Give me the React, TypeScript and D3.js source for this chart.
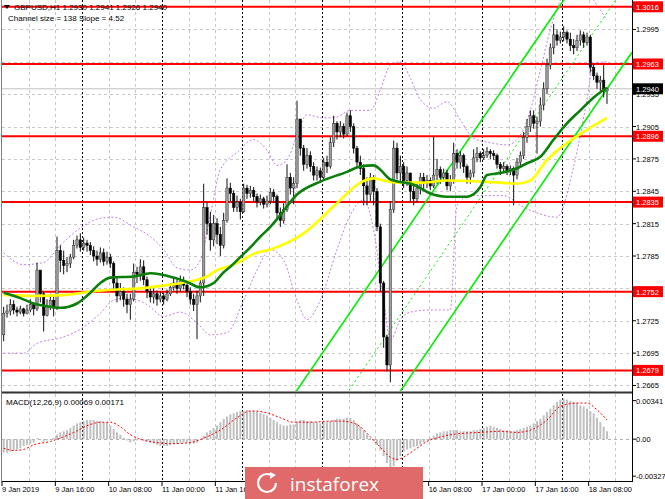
import React from "react";
import * as d3 from "d3";

const W = 665;
const H = 499;

// GBPUSD H1, bar 0 = 9 Jan 2019 00:00. Each row: high, low, close (open = previous close)
const firstOpen = 1.2712;
const candles: number[][] = [
  // 9 Jan
  [1.2738, 1.2706, 1.2732], [1.2740, 1.2728, 1.2734], [1.2745, 1.2730, 1.2740], [1.2744, 1.2731, 1.2735],
  [1.2738, 1.2729, 1.2733], [1.2739, 1.2731, 1.2736], [1.2737, 1.2729, 1.2732], [1.2740, 1.2731, 1.2735],
  [1.2745, 1.2733, 1.2740], [1.2742, 1.2730, 1.2736], [1.2779, 1.2734, 1.2772], [1.2768, 1.2742, 1.2750],
  [1.2752, 1.2715, 1.2730], [1.2745, 1.2729, 1.2738], [1.2750, 1.2735, 1.2744], [1.2748, 1.2729, 1.2737],
  [1.2803, 1.2735, 1.2790], [1.2795, 1.2770, 1.2781], [1.2790, 1.2768, 1.2776], [1.2784, 1.2770, 1.2778],
  [1.2787, 1.2774, 1.2784], [1.2800, 1.2782, 1.2795], [1.2804, 1.2792, 1.2800], [1.2806, 1.2789, 1.2793],
  // 10 Jan
  [1.2802, 1.2790, 1.2797], [1.2800, 1.2789, 1.2795], [1.2798, 1.2786, 1.2790], [1.2794, 1.2780, 1.2785],
  [1.2790, 1.2776, 1.2782], [1.2793, 1.2779, 1.2788], [1.2792, 1.2776, 1.2780], [1.2789, 1.2777, 1.2784],
  [1.2787, 1.2774, 1.2778], [1.2780, 1.2754, 1.2760], [1.2765, 1.2742, 1.2748], [1.2760, 1.2744, 1.2752],
  [1.2756, 1.2738, 1.2745], [1.2750, 1.2732, 1.2740], [1.2750, 1.2726, 1.2745], [1.2778, 1.2743, 1.2770],
  [1.2775, 1.2760, 1.2768], [1.2782, 1.2762, 1.2775], [1.2781, 1.2758, 1.2763], [1.2766, 1.2746, 1.2752],
  [1.2756, 1.2742, 1.2747], [1.2755, 1.2741, 1.2750], [1.2753, 1.2739, 1.2745], [1.2752, 1.2742, 1.2748],
  // 11 Jan
  [1.2751, 1.2740, 1.2745], [1.2754, 1.2743, 1.2750], [1.2760, 1.2748, 1.2756], [1.2765, 1.2753, 1.2760],
  [1.2764, 1.2750, 1.2755], [1.2767, 1.2752, 1.2762], [1.2766, 1.2754, 1.2758], [1.2761, 1.2747, 1.2752],
  [1.2756, 1.2740, 1.2745], [1.2750, 1.2734, 1.2740], [1.2753, 1.2708, 1.2748], [1.2765, 1.2742, 1.2760],
  [1.2852, 1.2748, 1.2830], [1.2835, 1.2805, 1.2815], [1.2826, 1.2790, 1.2800], [1.2823, 1.2794, 1.2815],
  [1.2820, 1.2796, 1.2805], [1.2812, 1.2785, 1.2795], [1.2825, 1.2792, 1.2818], [1.2857, 1.2816, 1.2848],
  [1.2853, 1.2836, 1.2843], [1.2846, 1.2826, 1.2830], [1.2841, 1.2826, 1.2835], [1.2838, 1.2819, 1.2826],
  // 14 Jan
  [1.2852, 1.2825, 1.2848], [1.2851, 1.2838, 1.2843], [1.2850, 1.2839, 1.2846], [1.2849, 1.2835, 1.2840],
  [1.2843, 1.2830, 1.2835], [1.2842, 1.2832, 1.2838], [1.2840, 1.2829, 1.2833], [1.2841, 1.2830, 1.2836],
  [1.2848, 1.2833, 1.2844], [1.2847, 1.2834, 1.2840], [1.2842, 1.2820, 1.2825], [1.2830, 1.2812, 1.2818],
  [1.2834, 1.2815, 1.2828], [1.2870, 1.2826, 1.2858], [1.2862, 1.2842, 1.2848], [1.2858, 1.2833, 1.2852],
  [1.2929, 1.2848, 1.2912], [1.2912, 1.2878, 1.2885], [1.2888, 1.2864, 1.2870], [1.2885, 1.2866, 1.2878],
  [1.2882, 1.2863, 1.2868], [1.2872, 1.2855, 1.2860], [1.2868, 1.2855, 1.2864], [1.2867, 1.2853, 1.2858],
  // 15 Jan
  [1.2876, 1.2855, 1.2872], [1.2878, 1.2862, 1.2868], [1.2895, 1.2866, 1.2890], [1.2915, 1.2886, 1.2908],
  [1.2910, 1.2893, 1.2900], [1.2910, 1.2895, 1.2905], [1.2908, 1.2894, 1.2898], [1.2918, 1.2896, 1.2915],
  [1.2920, 1.2900, 1.2905], [1.2908, 1.2880, 1.2885], [1.2887, 1.2866, 1.2872], [1.2878, 1.2860, 1.2866],
  [1.2870, 1.2832, 1.2850], [1.2858, 1.2832, 1.2842], [1.2862, 1.2836, 1.2858], [1.2860, 1.2832, 1.2845],
  [1.2848, 1.2808, 1.2812], [1.2815, 1.2752, 1.2760], [1.2762, 1.2700, 1.2710], [1.2712, 1.2678, 1.2684],
  [1.2836, 1.2668, 1.2828], [1.2892, 1.2825, 1.2885], [1.2890, 1.2856, 1.2862], [1.2878, 1.2852, 1.2868],
  // 16 Jan
  [1.2872, 1.2848, 1.2855], [1.2868, 1.2850, 1.2862], [1.2862, 1.2835, 1.2845], [1.2850, 1.2832, 1.2838],
  [1.2853, 1.2835, 1.2848], [1.2862, 1.2842, 1.2858], [1.2862, 1.2845, 1.2852], [1.2860, 1.2848, 1.2855],
  [1.2858, 1.2846, 1.2850], [1.2896, 1.2848, 1.2860], [1.2875, 1.2852, 1.2865], [1.2868, 1.2852, 1.2858],
  [1.2866, 1.2854, 1.2862], [1.2865, 1.2846, 1.2850], [1.2860, 1.2845, 1.2855], [1.2890, 1.2852, 1.2880],
  [1.2884, 1.2866, 1.2872], [1.2882, 1.2866, 1.2878], [1.2880, 1.2862, 1.2868], [1.2870, 1.2852, 1.2858],
  [1.2865, 1.2852, 1.2862], [1.2884, 1.2858, 1.2876], [1.2886, 1.2872, 1.2880], [1.2882, 1.2872, 1.2876],
  // 17 Jan
  [1.2884, 1.2874, 1.2878], [1.2886, 1.2876, 1.2882], [1.2884, 1.2875, 1.2880], [1.2883, 1.2874, 1.2878],
  [1.2880, 1.2866, 1.2870], [1.2872, 1.2860, 1.2866], [1.2872, 1.2862, 1.2868], [1.2870, 1.2860, 1.2864],
  [1.2869, 1.2860, 1.2866], [1.2868, 1.2832, 1.2860], [1.2876, 1.2856, 1.2872], [1.2882, 1.2868, 1.2878],
  [1.2900, 1.2875, 1.2895], [1.2912, 1.2890, 1.2905], [1.2920, 1.2900, 1.2915], [1.2920, 1.2903, 1.2908],
  [1.2914, 1.2880, 1.2910], [1.2932, 1.2905, 1.2925], [1.2946, 1.2920, 1.2940], [1.2968, 1.2935, 1.2962],
  [1.2982, 1.2958, 1.2978], [1.3000, 1.2972, 1.2990], [1.2995, 1.2980, 1.2985], [1.2993, 1.2982, 1.2988],
  // 18 Jan
  [1.2998, 1.2984, 1.2992], [1.2994, 1.2982, 1.2986], [1.2992, 1.2975, 1.2980], [1.2986, 1.2972, 1.2978],
  [1.2990, 1.2975, 1.2985], [1.2994, 1.2980, 1.2990], [1.2993, 1.2978, 1.2983], [1.2992, 1.2980, 1.2988],
  [1.2990, 1.2955, 1.2960], [1.2963, 1.2948, 1.2952], [1.2955, 1.2940, 1.2946], [1.2952, 1.2938, 1.2948],
  [1.2962, 1.2932, 1.2938], [1.2941, 1.2926, 1.2940],
];

// moving averages, read at some bars: [bar, price]
const greenMA = [
  [0, 1.2751], [5, 1.2746], [9, 1.2741], [12, 1.2739], [17, 1.2737], [22, 1.2741], [26, 1.2751],
  [29, 1.2760], [32, 1.2765], [39, 1.2766], [44, 1.2769], [51, 1.2765], [55, 1.2761], [59, 1.2756],
  [63, 1.2760], [66, 1.2770], [68, 1.2775], [71, 1.2784], [74, 1.2793], [77, 1.2803], [80, 1.2812],
  [83, 1.2823], [88, 1.2842], [95, 1.2854], [103, 1.2863], [107, 1.2868], [111, 1.2869], [113, 1.2865],
  [116, 1.2856], [123, 1.2851], [128, 1.2843], [133, 1.2840], [139, 1.2840], [143, 1.2849],
  [145, 1.2860], [149, 1.2862], [153, 1.2865], [157, 1.2871], [161, 1.2877], [165, 1.2893],
  [169, 1.2908], [173, 1.2920], [177, 1.2932], [181, 1.2941],
];
const yellowMA = [
  [0, 1.2749], [9, 1.2748], [19, 1.2749], [26, 1.2752], [34, 1.2754], [41, 1.2755], [49, 1.2758],
  [55, 1.2761], [61, 1.2766], [64, 1.2772], [68, 1.2776], [71, 1.2780], [75, 1.2787], [80, 1.2791],
  [90, 1.2806], [100, 1.2834], [107, 1.2853], [111, 1.2857], [114, 1.2855], [118, 1.2853],
  [126, 1.2853], [133, 1.2855], [143, 1.2854], [149, 1.2853], [154, 1.2852], [158, 1.2855],
  [163, 1.2874], [167, 1.2885], [171, 1.2894], [175, 1.2902], [181, 1.2913],
];
// bands (purple dotted)
const bandUpper = [
  [0, 1.2788], [6, 1.2777], [12, 1.2779], [17, 1.2795], [23, 1.2811], [29, 1.2820], [33, 1.2821],
  [39, 1.2812], [44, 1.2803], [48, 1.2791], [52, 1.2774], [56, 1.2772], [59, 1.2781], [62, 1.2823],
  [65, 1.2865], [70, 1.2881], [75, 1.2893], [79, 1.2883], [82, 1.2869], [85, 1.2874], [88, 1.2897],
  [91, 1.2916], [96, 1.2913], [100, 1.2914], [104, 1.2920], [110, 1.2920], [113, 1.2939],
  [116, 1.2962], [119, 1.2965], [122, 1.2950], [125, 1.2930], [129, 1.2922], [133, 1.2928],
  [137, 1.2911], [141, 1.2894], [146, 1.2890], [151, 1.2888], [155, 1.2897], [158, 1.2920],
  [161, 1.2957], [164, 1.2995], [167, 1.3022], [170, 1.3041], [174, 1.3036], [177, 1.3022], [181, 1.3004],
];
const bandLower = [
  [0, 1.2695], [6, 1.2695], [10, 1.2704], [18, 1.2710], [24, 1.2719], [29, 1.2732], [33, 1.2744],
  [37, 1.2746], [43, 1.2740], [48, 1.2729], [53, 1.2733], [58, 1.2723], [62, 1.2712], [67, 1.2714],
  [72, 1.2744], [76, 1.2772], [80, 1.2791], [84, 1.2781], [88, 1.2744], [91, 1.2726], [95, 1.2744],
  [100, 1.2791], [104, 1.2823], [108, 1.2837], [111, 1.2809], [114, 1.2744], [116, 1.2707],
  [119, 1.2726], [122, 1.2733], [128, 1.2735], [134, 1.2735], [136, 1.2832], [140, 1.2841],
  [150, 1.2841], [155, 1.2832], [160, 1.2825], [166, 1.2821], [171, 1.2868], [175, 1.2930],
  [177, 1.2964], [181, 1.2965],
];

// MACD(12,26,9) histogram, one value per bar
const macdHist = [
  -0.0012, -0.0012, -0.0011, -0.0010, -0.0009, -0.0008, -0.0006, -0.0005, -0.0004, -0.0003,
  0.0001, 0.0000, -0.0002, -0.0001, 0.0000, 0.0001, 0.0004, 0.0006, 0.0007, 0.0008,
  0.0010, 0.0012, 0.0014, 0.0015, 0.0016, 0.0017, 0.0017, 0.0017, 0.0016, 0.0016,
  0.0015, 0.0015, 0.0012, 0.0009, 0.0006, 0.0004, 0.0001, -0.0001, -0.0003, -0.0002,
  -0.0001, 0.0000, -0.0001, -0.0002, -0.0003, -0.0004, -0.0005, -0.0006, -0.0006, -0.0006,
  -0.0005, -0.0004, -0.0004, -0.0003, -0.0003, -0.0003, -0.0004, -0.0004, -0.0003, 0.0000,
  0.0003, 0.0006, 0.0008, 0.0010, 0.0012, 0.0015, 0.0018, 0.0020, 0.0022, 0.0023,
  0.0024, 0.0025, 0.0025, 0.0026, 0.0025, 0.0025, 0.0024, 0.0023, 0.0022, 0.0021,
  0.0019, 0.0017, 0.0015, 0.0013, 0.0012, 0.0012, 0.0013, 0.0013, 0.0016, 0.0017,
  0.0017, 0.0016, 0.0016, 0.0015, 0.0015, 0.0014, 0.0015, 0.0015, 0.0016, 0.0017,
  0.0018, 0.0018, 0.0018, 0.0019, 0.0019, 0.0017, 0.0014, 0.0011, 0.0008, 0.0004,
  0.0001, -0.0002, -0.0005, -0.0010, -0.0015, -0.0021, -0.0025, -0.0024, -0.0019, -0.0015,
  -0.0011, -0.0009, -0.0008, -0.0007, -0.0006, -0.0005, -0.0003, -0.0001, 0.0001, 0.0003,
  0.0005, 0.0006, 0.0007, 0.0007, 0.0008, 0.0008, 0.0008, 0.0007, 0.0007, 0.0007,
  0.0007, 0.0008, 0.0008, 0.0009, 0.0010, 0.0011, 0.0012, 0.0011, 0.0010, 0.0009,
  0.0008, 0.0008, 0.0007, 0.0007, 0.0008, 0.0009, 0.0010, 0.0011, 0.0012, 0.0014,
  0.0016, 0.0018, 0.0021, 0.0024, 0.0027, 0.0030, 0.0033, 0.0035, 0.0036, 0.0035,
  0.0034, 0.0033, 0.0032, 0.0030, 0.0029, 0.0027, 0.0025, 0.0023, 0.0019, 0.0015,
  0.0011, 0.0007,
];
const macdSignal = [
  [0, -0.0008], [3, -0.0010], [6, -0.0009], [9, -0.0005], [14, -0.0002], [17, 0.0001], [21, 0.0006],
  [26, 0.0013], [29, 0.0015], [32, 0.0015], [35, 0.0011], [38, 0.0004], [41, 0.0000], [46, -0.0003],
  [50, -0.0004], [56, -0.0003], [60, 0.0001], [65, 0.0008], [70, 0.0019], [74, 0.0025], [78, 0.0024],
  [83, 0.0019], [87, 0.0015], [92, 0.0015], [98, 0.0016], [101, 0.0016], [104, 0.0015], [107, 0.0011],
  [110, 0.0002], [113, -0.0007], [116, -0.0016], [118, -0.0018], [121, -0.0014], [124, -0.0008],
  [127, -0.0002], [131, 0.0002], [137, 0.0005], [143, 0.0006], [149, 0.0007], [154, 0.0006],
  [158, 0.0008], [163, 0.0017], [167, 0.0029], [172, 0.0032], [175, 0.0032], [178, 0.0026], [181, 0.0017],
];

const levels = [1.3016, 1.2963, 1.2896, 1.2835, 1.2752, 1.2679];
const priceTicks = [1.2995, 1.2965, 1.2935, 1.2905, 1.2875, 1.2845, 1.2815, 1.2785, 1.2755, 1.2725, 1.2695, 1.2665];
const lastPrice = 1.294;
const macdTicks = [0.00341, 0, -0.00327];
const macdTickLabels = ["0.00341", "0.00", "-0.00327"];
// labels under the watermark are not shown
const timeLabels: [number, string][] = [
  [0, "9 Jan 2019"], [16, "9 Jan 16:00"], [32, "10 Jan 08:00"], [48, "11 Jan 00:00"],
  [64, "11 Jan 16:00"], [128, "16 Jan 08:00"], [144, "17 Jan 00:00"], [160, "17 Jan 16:00"],
  [176, "18 Jan 08:00"],
];
const hiddenTickBars = [80, 96, 112];
// regression channel
const channelAnchorBar = 120;
const channelAnchorPrice = 1.2662;
const channelSlope = 0.000452;
const channelWidth = 0.0141;

const FONT = "Liberation Sans, Arial, sans-serif";

export default function App() {
  const x = d3.scaleLinear().domain([0, 189]).range([2, 632]);
  const y = d3.scaleLinear().domain([1.26599, 1.30223]).range([391, 0]);
  const ym = d3.scaleLinear().domain([-0.0037, 0.004]).range([481, 394]);
  const fmt = d3.format(".4f");

  const line = d3
    .line<number[]>()
    .x((d) => x(d[0] + 0.5))
    .y((d) => y(d[1]))
    .curve(d3.curveMonotoneX);
  const sigLine = d3
    .line<number[]>()
    .x((d) => x(d[0] + 0.5))
    .y((d) => ym(d[1]))
    .curve(d3.curveMonotoneX);

  const chan = (off: number) => {
    const p = (b: number) => channelAnchorPrice + off + channelSlope * (b - channelAnchorBar);
    return { x1: x(0), y1: y(p(0)), x2: x(189), y2: y(p(189)) };
  };

  // tick labels covered by a level label are hidden, as in the terminal
  const shownTicks = priceTicks.filter((t) => levels.every((l) => Math.abs(y(l) - y(t)) > 4));

  const gridBars = d3.range(8, 189, 8);
  const bw = 2.4;

  return (
    <div style={{ position: "absolute", left: 0, top: 0 }}>
      <svg width={W} height={H} style={{ display: "block", background: "#fff", fontFamily: FONT }}>
        <defs>
          <clipPath id="main">
            <rect x={2} y={0} width={630} height={391} />
          </clipPath>
          <clipPath id="macd">
            <rect x={2} y={394} width={630} height={87} />
          </clipPath>
        </defs>

        {/* grid main */}
        {priceTicks.map((t) => (
          <line key={t} x1={2} x2={632} y1={Math.round(y(t)) + 0.5} y2={Math.round(y(t)) + 0.5} stroke="#c8c8c8" strokeDasharray="3,3" />
        ))}
        {gridBars.map((b) => (
          <g key={b}>
            <line
              x1={Math.round(x(b)) + 0.5}
              x2={Math.round(x(b)) + 0.5}
              y1={0}
              y2={391}
              stroke={b % 24 === 0 ? "#000" : "#c8c8c8"}
              strokeDasharray={b % 24 === 0 ? "2,2" : "3,3"}
            />
            <line
              x1={Math.round(x(b)) + 0.5}
              x2={Math.round(x(b)) + 0.5}
              y1={394}
              y2={481}
              stroke={b % 24 === 0 ? "#000" : "#c8c8c8"}
              strokeDasharray={b % 24 === 0 ? "2,2" : "3,3"}
            />
          </g>
        ))}

        <g clipPath="url(#main)">
          {/* bid line */}
          <line x1={2} x2={632} y1={y(lastPrice)} y2={y(lastPrice)} stroke="#c0c0c0" />
          {/* bands */}
          <path d={line(bandUpper) || ""} fill="none" stroke="#c77ce8" strokeWidth={1} strokeDasharray="2,2" />
          <path d={line(bandLower) || ""} fill="none" stroke="#c77ce8" strokeWidth={1} strokeDasharray="2,2" />
          {/* levels */}
          {levels.map((l) => (
            <line key={l} x1={2} x2={632} y1={y(l)} y2={y(l)} stroke="#ff0000" strokeWidth={2} />
          ))}
          {/* channel */}
          <line {...chan(0)} stroke="#00ee00" strokeWidth={1.6} />
          <line {...chan(channelWidth)} stroke="#00ee00" strokeWidth={1.6} />
          <line {...chan(channelWidth / 2)} stroke="#00ee00" strokeWidth={1} strokeDasharray="2,3" />
          {/* candles */}
          {candles.map((c, i) => {
            const open = i === 0 ? firstOpen : candles[i - 1][2];
            const [hi, lo, close] = c;
            const cx = x(i + 0.5);
            const up = close >= open;
            const top = y(Math.max(open, close));
            const h = Math.max(1, y(Math.min(open, close)) - top);
            return (
              <g key={i}>
                <line x1={cx} x2={cx} y1={y(hi)} y2={y(lo)} stroke="#111" strokeWidth={1} />
                <rect
                  x={cx - bw / 2}
                  y={top}
                  width={bw}
                  height={h}
                  fill={up ? "#9c9c9c" : "#000"}
                  stroke={up ? "#333" : "#000"}
                  strokeWidth={0.5}
                />
              </g>
            );
          })}
          {/* MAs */}
          <path d={line(yellowMA) || ""} fill="none" stroke="#ffff00" strokeWidth={2.6} />
          <path d={line(greenMA) || ""} fill="none" stroke="#0a7f0a" strokeWidth={2.6} />
        </g>

        {/* MACD */}
        <line x1={2} x2={632} y1={Math.round(ym(0)) + 0.5} y2={Math.round(ym(0)) + 0.5} stroke="#b0b0b0" strokeDasharray="3,3" />
        <g clipPath="url(#macd)">
          {macdHist.map((v, i) => (
            <rect
              key={i}
              x={x(i + 0.5) - 1}
              y={Math.min(ym(v), ym(0))}
              width={2}
              height={Math.abs(ym(v) - ym(0))}
              fill="#c0c0c0"
            />
          ))}
          <path d={sigLine(macdSignal) || ""} fill="none" stroke="#ff0000" strokeWidth={1} strokeDasharray="2,2" />
        </g>
        <text x={6} y={405} fontSize={8} fill="#000">
          MACD(12,26,9) 0.00069 0.00171
        </text>

        {/* frames */}
        <line x1={1.5} x2={1.5} y1={0} y2={482} stroke="#808080" />
        <line x1={2} x2={632} y1={392.5} y2={392.5} stroke="#333" strokeWidth={2} />
        <line x1={2} x2={632} y1={481.5} y2={481.5} stroke="#000" />
        <line x1={632.5} x2={632.5} y1={0} y2={482} stroke="#000" />

        {/* right price axis */}
        {priceTicks.map((t) => (
          <line key={t} x1={632} x2={636} y1={y(t)} y2={y(t)} stroke="#000" />
        ))}
        {shownTicks.map((t) => (
          <text key={t} x={636} y={y(t) + 3} fontSize={7.5} fill="#000">
            {fmt(t)}
          </text>
        ))}
        {levels.map((l) => (
          <g key={l}>
            <rect x={633} y={y(l) - 5.5} width={30} height={11} fill="#ff0000" />
            <text x={636} y={y(l) + 3} fontSize={7.5} fill="#fff">
              {fmt(l)}
            </text>
          </g>
        ))}
        <rect x={633} y={y(lastPrice) - 5.5} width={30} height={11} fill="#000" />
        <text x={636} y={y(lastPrice) + 3} fontSize={7.5} fill="#fff">
          {fmt(lastPrice)}
        </text>

        {/* MACD axis */}
        {macdTicks.map((t, k) => (
          <g key={k}>
            <line x1={632} x2={636} y1={ym(t)} y2={ym(t)} stroke="#000" />
            <text x={636} y={ym(t) + 3} fontSize={7.5} fill="#000">
              {macdTickLabels[k]}
            </text>
          </g>
        ))}

        {/* time axis */}
        {hiddenTickBars.map((b) => (
          <line key={b} x1={x(b)} x2={x(b)} y1={482} y2={486} stroke="#000" />
        ))}
        {timeLabels.map(([b, s]) => (
          <g key={b}>
            <line x1={x(b)} x2={x(b)} y1={482} y2={486} stroke="#000" />
            <text x={x(b)} y={492} fontSize={7.5} fill="#000">
              {s}
            </text>
          </g>
        ))}

        {/* header */}
        <path d="M4,5 L10,5 L7,9 Z" fill="#000" />
        <text x={14} y={10} fontSize={8} fill="#000">
          GBPUSD,H1  1.2930 1.2941 1.2926 1.2940
        </text>
        <text x={8} y={21} fontSize={8} fill="#000">
          Channel size = 138 Slope = 4.52
        </text>

        {/* watermark */}
        <rect x={245} y={467} width={178} height={32} fill="#e06a6a" />
        <circle cx={267} cy={483} r={9} fill="none" stroke="#fff" strokeWidth={2.2} strokeDasharray="46,11" />
        <path d="M270,472 L276,475 L270,479 Z" fill="#fff" />
        <text x={290} y={491} fontSize={19} fill="#fff" fontFamily="Open Sans, sans-serif">
          instaforex
        </text>
      </svg>
    </div>
  );
}
